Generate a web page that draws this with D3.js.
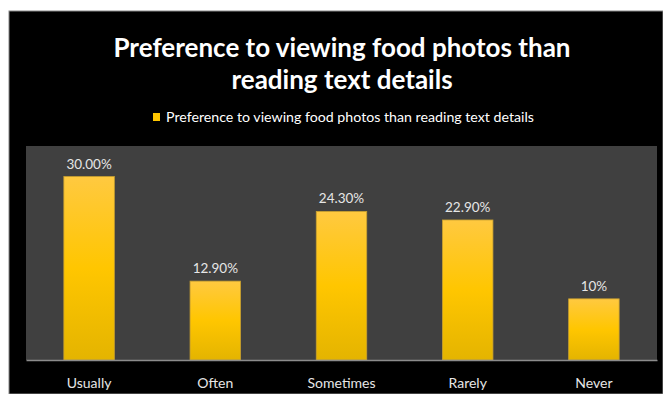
<!DOCTYPE html>
<html><head><meta charset="utf-8">
<script src="https://cdn.jsdelivr.net/npm/d3@7"></script>
<style>html,body{margin:0;padding:0;background:#fff;}svg{display:block;}</style>
</head><body>
<script>
const categories = ["Usually", "Often", "Sometimes", "Rarely", "Never"];
const values = [30.0, 12.9, 24.3, 22.9, 10];
const valueLabels = ["30.00%", "12.90%", "24.30%", "22.90%", "10%"];
const seriesName = "Preference to viewing food photos than reading text details";
const titleLines = ["Preference to viewing food photos than", "reading text details"];

const W = 663, H = 394;
const svg = d3.select("body").append("svg").attr("width", W).attr("height", H);

const defs = svg.append("defs");
const grad = defs.append("linearGradient").attr("id", "barGrad").attr("x1", 0).attr("y1", 0).attr("x2", 0).attr("y2", 1);
grad.append("stop").attr("offset", "0%").attr("stop-color", "#ffc940");
grad.append("stop").attr("offset", "50%").attr("stop-color", "#ffc600");
grad.append("stop").attr("offset", "100%").attr("stop-color", "#e4b400");

// chart background
svg.append("rect").attr("x", 9).attr("y", 11).attr("width", W - 9).attr("height", H - 11)
  .attr("fill", "#000").attr("stroke", "#888").attr("stroke-width", 1);

const plot = {left: 26, right: 657, top: 146, bottom: 360};
svg.append("rect").attr("x", plot.left).attr("y", plot.top)
  .attr("width", plot.right - plot.left).attr("height", plot.bottom - plot.top).attr("fill", "#404040");

const x = d3.scaleBand().domain(categories).range([plot.left, plot.right]).paddingInner(0.6).paddingOuter(0.3);
const y = d3.scaleLinear().domain([0, 35]).range([plot.bottom, plot.top]);

const font = "Lato, 'Open Sans', sans-serif";

// title
svg.append("g").selectAll("text").data(titleLines).join("text")
  .attr("x", 342).attr("y", (d, i) => 57 + i * 32)
  .attr("text-anchor", "middle").attr("fill", "#fff")
  .attr("font-family", font).attr("font-weight", "bold").attr("font-size", 26)
  .text(d => d);

// legend
svg.append("rect").attr("x", 153).attr("y", 113).attr("width", 7).attr("height", 8).attr("fill", "#ffc600");
svg.append("text").attr("x", 166).attr("y", 122).attr("fill", "#fff")
  .attr("font-family", font).attr("font-size", 14.2).text(seriesName);

// bars
svg.append("g").selectAll("rect").data(values).join("rect")
  .attr("x", (d, i) => x(categories[i]))
  .attr("y", d => y(d))
  .attr("width", x.bandwidth())
  .attr("height", d => y(0) - y(d))
  .attr("fill", "url(#barGrad)").attr("stroke", "#c8a030").attr("stroke-width", 0.8);

// value labels
svg.append("g").selectAll("text").data(values).join("text")
  .attr("x", (d, i) => x(categories[i]) + x.bandwidth() / 2)
  .attr("y", d => y(d) - 8)
  .attr("text-anchor", "middle").attr("fill", "#e6e6e6")
  .attr("font-family", font).attr("font-size", 13.5)
  .text((d, i) => valueLabels[i]);

// x axis
const xAxis = d3.axisBottom(x).tickSize(0).tickPadding(18);
const ax = svg.append("g").attr("transform", `translate(0,${plot.bottom})`).call(xAxis);
ax.select(".domain").attr("stroke", "#8c8c8c").attr("stroke-width", 1.5);
ax.selectAll("text").attr("fill", "#e6e6e6").attr("font-family", font).attr("font-size", 14);
</script>
</body></html>
